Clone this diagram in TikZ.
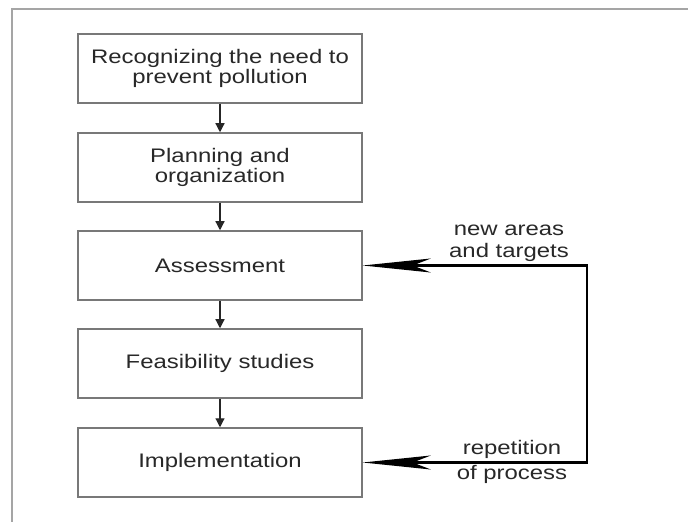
\documentclass[tikz,border=0pt]{standalone}
\usepackage{fontspec}
\setmainfont{Liberation Sans}[FakeStretch=1.22]
\usetikzlibrary{arrows.meta}
\definecolor{framecol}{RGB}{165,165,165}
\definecolor{boxcol}{RGB}{120,120,120}
\definecolor{txtcol}{RGB}{40,40,40}
\begin{document}
\begin{tikzpicture}[x=0.5pt,y=-0.5pt,
  stepbox/.style={draw=boxcol,line width=0.75pt,minimum width=142pt,minimum height=34.5pt,
    inner sep=0pt,align=center,text=txtcol,font=\fontsize{9.8pt}{10.2pt}\selectfont},
  lbl/.style={align=center,text=txtcol,inner sep=0pt,font=\fontsize{9.8pt}{11pt}\selectfont},
  smallarr/.style={draw=black!85,line width=0.6pt,-{Triangle[length=4.5pt,width=4.5pt]}},
  fb/.style={draw=black,line width=1.25pt,line join=miter,
    {Stealth[length=34pt,width=7pt,inset=9pt]}-{Stealth[length=34pt,width=7pt,inset=9pt]}}]
\useasboundingbox (0,0) rectangle (688,522);
\fill[white] (0,0) rectangle (688,522);
\draw[framecol,line width=0.75pt] (688,9) -- (12,9) -- (12,522);
\node[stepbox] (b1) at (220,68.5) {Recognizing the need to\\prevent pollution};
\node[stepbox] (b2) at (220,167.5) {Planning and\\organization};
\node[stepbox] (b3) at (220,265.5) {Assessment};
\node[stepbox] (b4) at (220,363.5) {Feasibility studies};
\node[stepbox] (b5) at (220,462.5) {Implementation};
\draw[smallarr] (b1) -- (b2);
\draw[smallarr] (b2) -- (b3);
\draw[smallarr] (b3) -- (b4);
\draw[smallarr] (b4) -- (b5);
\coordinate (c1) at (587,265.5);
\coordinate (c2) at (587,462.5);
\draw[fb] (b3.east) -- (c1) -- (c2) -- (b5.east);
\node[lbl] (l1) at (509,243) {new areas\\and targets};
\node[lbl] (l2) at (512,462) {repetition\\[1.5pt]of process};
\end{tikzpicture}
\end{document}
